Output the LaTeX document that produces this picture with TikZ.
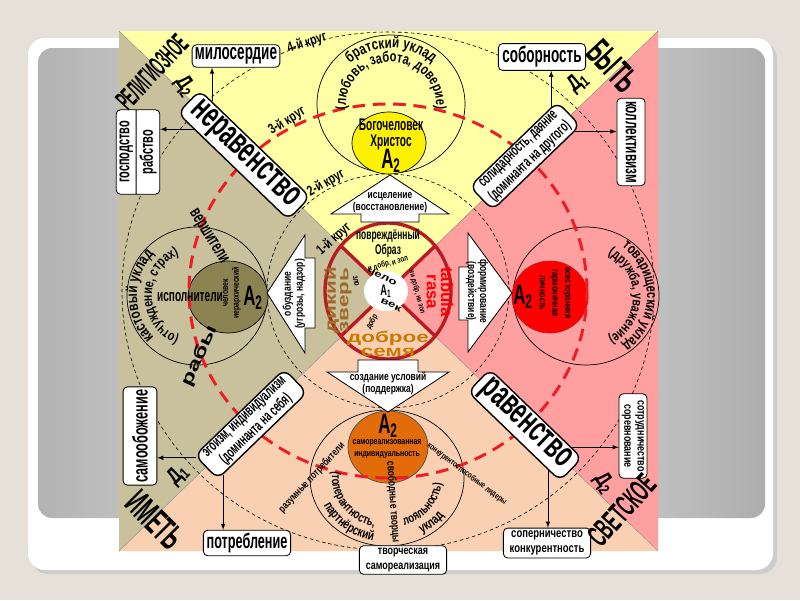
\documentclass[tikz,border=0pt]{standalone}
\usepackage{fontspec}
\setmainfont{Liberation Sans}
\newfontfamily\narrowfont[FakeStretch=0.75]{Liberation Sans}
\newfontfamily\condfont[FakeStretch=0.6]{Liberation Sans}
\newfontfamily\tightfont[FakeStretch=0.5]{Liberation Sans}
\newfontfamily\widefont[FakeStretch=1.45]{Liberation Sans}
\usetikzlibrary{calc,shapes.multipart,decorations.text}
\definecolor{pagec}{HTML}{E6E1D8}
\definecolor{topc}{HTML}{FFFFA6}
\definecolor{rightc}{HTML}{FF9F9F}
\definecolor{botc}{HTML}{FAD0B2}
\definecolor{leftc}{HTML}{C9C09C}
\definecolor{ringred}{HTML}{EE1C24}
\definecolor{crossred}{HTML}{B81C22}
\definecolor{olivec}{HTML}{8C8352}
\definecolor{orangec}{HTML}{E36C0A}
\definecolor{beastc}{HTML}{9E6A2C}
\definecolor{seedc}{HTML}{C87A00}
\def\fsize#1#2{\fontsize{#1}{#2}\selectfont}
\def\bendtext[#1](#2)(#3:#4:#5:#6)#7{\path[decorate,decoration={text along path,text align=center,text={|#1|#7}}] ($(#2)+({#5*cos(#3)},{#6*sin(#3)})$) arc[start angle=#3,end angle=#4,x radius=#5,y radius=#6];}
\tikzset{
  box/.style={draw,fill=white,rounded corners=3pt,line width=0.6pt,inner sep=2pt,align=center},
  bigbox/.style={draw,fill=white,rounded corners=6pt,line width=1pt,inner xsep=5pt,inner ysep=1.5pt,align=center},
  arr/.style={-latex,line width=0.5pt},
  ring/.style={line width=0.45pt,dash pattern=on 2.5pt off 2pt},
  redring/.style={draw=ringred,line width=2.1pt,dash pattern=on 9pt off 5.5pt},
  blockarr/.style={draw,fill=white,line width=0.6pt},
  lbl/.style={inner sep=0pt,align=center}
}
\begin{document}
\begin{tikzpicture}[x=0.025cm,y=0.025cm]
		%%%%% SLIDE %%%%%
		\useasboundingbox (0,0) rectangle (800,-600);
		\fill[pagec] (0,0) rectangle (800,-600);
		\fill[black!20,rounded corners=12] (31,-42) rectangle (777,-574);
		\fill[white,rounded corners=12] (28,-38) rectangle (773,-570);
		\shade[rounded corners=10,left color=black!30,right color=black!32,middle color=black!8] (38,-48) rectangle (765,-518);
		
		%%%%% QUADRANTS %%%%%
		\coordinate (C) at (388,-291);
		\coordinate (TL) at (119,-31);
		\coordinate (TR) at (658,-31);
		\coordinate (BR) at (658,-551);
		\coordinate (BL) at (119,-551);
		\fill[topc] (TL) -- (TR) -- (C) -- cycle;
		\fill[rightc] (TR) -- (BR) -- (C) -- cycle;
		\fill[botc] (BR) -- (BL) -- (C) -- cycle;
		\fill[leftc] (BL) -- (TL) -- (C) -- cycle;
		\draw[black!45,line width=0.3pt] (TL) -- (BR) (TR) -- (BL);
		
		%%%%% CIRCLES %%%%%
		\coordinate (T) at (391,-104);
		\coordinate (L) at (197,-296);
		\coordinate (R) at (586,-296);
		\coordinate (B) at (387,-478);
		\begin{scope}
			\clip (TL) rectangle (BR);
			\draw[ring] (C) ellipse[x radius=266,y radius=259];
		\end{scope}
		\draw[ring] (C) ellipse[x radius=121,y radius=117];
		\draw[line width=0.5pt] (T) ellipse[x radius=74,y radius=69];
		\draw[line width=0.5pt] (L) ellipse[x radius=70,y radius=69];
		\draw[line width=0.5pt] (R) ellipse[x radius=73,y radius=69];
		\draw[line width=0.5pt] (B) ellipse[x radius=77,y radius=68];
		\draw[fill=yellow,line width=0.5pt] (389,-143) ellipse[x radius=37,y radius=31];
		\draw[fill=olivec,line width=0.5pt] (228,-297) ellipse[x radius=40,y radius=36];
		\draw[fill=red,draw=crossred,line width=0.5pt] (550,-297) ellipse[x radius=38,y radius=36];
		\draw[fill=orangec,draw=black!70,line width=0.5pt] (388,-447) ellipse[x radius=40,y radius=36];
		\draw[redring] (C) ellipse[x radius=199,y radius=187];
		
		%%%%% CENTRE %%%%%
		\draw[crossred,line width=2.4pt] (C) ellipse[x radius=63,y radius=68];
		\draw[crossred,line width=2.4pt] (341,-246) -- (435,-336) (435,-246) -- (341,-336);
		\fill[white] (386,-291) ellipse[x radius=22,y radius=20];
		
		%%%%% BLOCK ARROWS %%%%%
		\draw[blockarr] (390,-175) -- (449,-214) -- (419,-214) -- (419,-222) -- (361,-222) -- (361,-214) -- (331,-214) -- cycle;
		\draw[blockarr] (388,-412) -- (449,-372) -- (418,-372) -- (418,-360) -- (358,-360) -- (358,-372) -- (327,-372) -- cycle;
		\draw[blockarr] (267,-293) -- (305,-235) -- (305,-258) -- (315,-258) -- (315,-328) -- (305,-328) -- (305,-353) -- cycle;
		\draw[blockarr] (512,-293) -- (468,-233) -- (468,-267) -- (459,-267) -- (459,-320) -- (468,-320) -- (468,-352) -- cycle;
		\node[lbl,font=\narrowfont\bfseries\fsize{8}{8.5}] (heal) at (390,-203) {исцеление\\(восстановление)};
		\node[lbl,font=\narrowfont\bfseries\fsize{8}{8.5}] (support) at (388,-383) {создание условий\\(поддержка)};
		\node[lbl,rotate=90,font=\narrowfont\bfseries\fsize{8}{8.5}] (curb) at (294,-294) {обуздание\\(угрозы, надзор)};
		\node[lbl,rotate=-90,font=\narrowfont\bfseries\fsize{8}{8.5}] (shape) at (477,-291) {формирование\\(воздействие)};
		
		%%%%% DIAGONAL BOXES %%%%%
		\node[bigbox,rotate=-44,font=\condfont\bfseries\fsize{26}{26}] (ner) at (244,-155) {неравенство};
		\node[bigbox,rotate=-44,font=\condfont\bfseries\fsize{26}{26}] (rav) at (525,-425) {равенство};
		\node[bigbox,rotate=44,font=\condfont\bfseries\fsize{11}{12}] (sol) at (525,-156) {солидарность, даяние\\(доминанта на другого)};
		\node[bigbox,rotate=44,font=\condfont\bfseries\fsize{11}{12}] (ego) at (251,-424) {эгоизм, индивидуализм\\(доминанта на себя)};
		
		%%%%% SIDE BOXES %%%%%
		\node[box,minimum width=62pt,minimum height=16pt,font=\condfont\bfseries\fsize{16}{16}] (mil) at (236,-56) {милосердие};
		\node[box,minimum width=62pt,minimum height=17pt,font=\condfont\bfseries\fsize{16}{16}] (sob) at (542,-57) {соборность};
		\node[box,minimum width=62pt,minimum height=17pt,font=\condfont\bfseries\fsize{15}{15}] (potr) at (247,-543) {потребление};
		\node[box,rotate=90,minimum width=60pt,minimum height=24pt,font=\condfont\bfseries\fsize{15}{15}] (samo) at (140,-436) {самообожение};
		\node[box,rotate=-90,minimum width=60pt,minimum height=20pt,font=\condfont\bfseries\fsize{14}{14}] (kol) at (631,-142) {коллективизм};
		\node[box,rotate=90,rectangle split,rectangle split parts=2,minimum width=60pt,font=\condfont\bfseries\fsize{13}{13}] (gos) at (138,-152) {господство\nodepart{two}рабство};
		\node[box,minimum width=62pt,minimum height=19pt,font=\narrowfont\bfseries\fsize{9}{10.5}] (sop) at (547,-543) {соперничество\\конкурентность};
		\node[box,rotate=-90,minimum width=60pt,minimum height=19pt,font=\narrowfont\bfseries\fsize{8.5}{9.5}] (sotr) at (633,-436) {сотрудничество\\соревнование};
		\node[box,minimum width=62pt,minimum height=18pt,font=\narrowfont\bfseries\fsize{8.5}{10}] (tvor) at (403,-560) {творческая\\самореализация};
		
		\path (ner.north west) -- (ner.north east) coordinate[pos=0.11] (nerUp);
		\path (ner.south west) -- (ner.south east) coordinate[pos=0.15] (nerLeft);
		\path (sol.north west) -- (sol.north east) coordinate[pos=0.93] (solUp);
		\path (sol.south west) -- (sol.south east) coordinate[pos=0.93] (solRight);
		\path (ego.north west) -- (ego.south west) coordinate[pos=0.1] (egoLeft);
		\path (ego.south west) -- (ego.south east) coordinate[pos=0.06] (egoDown);
		\path (rav.north west) -- (rav.north east) coordinate[pos=0.88] (ravRight);
		\path (rav.south west) -- (rav.south east) coordinate[pos=0.87] (ravDown);
		\draw[arr] (nerUp) -- (nerUp |- mil.south);
		\draw[arr] (nerLeft) -- (nerLeft -| gos.south);
		\draw[arr] (solUp) -- (solUp |- sob.south);
		\draw[arr] (solRight) -- (solRight -| kol.south);
		\draw[arr] (egoLeft) -- (egoLeft -| samo.south);
		\draw[arr] (egoDown) -- (egoDown |- potr.north);
		\draw[arr] (ravRight) -- (ravRight -| sotr.south);
		\draw[arr] (ravDown) -- (ravDown |- sop.north);
		
		%%%%% CORNER LABELS %%%%%
		\node[lbl,rotate=47,font=\tightfont\bfseries\fsize{20}{20}] (relig) at (152,-72) {\scalebox{0.85}[1]{РЕЛИГИОЗНОЕ}};
		\node[lbl,rotate=-47,font=\tightfont\bfseries\fsize{26}{26}] (be) at (613,-66) {БЫТЬ};
		\node[lbl,rotate=-45,font=\tightfont\bfseries\fsize{26}{26}] (have) at (155,-520) {ИМЕТЬ};
		\node[lbl,rotate=48,font=\tightfont\bfseries\fsize{22}{22}] (secular) at (622,-510) {СВЕТСКОЕ};
		\node[lbl,rotate=-55,font=\narrowfont\bfseries\fsize{16}{16}] (dtwoA) at (185,-86) {Д\textsubscript{2}};
		\node[lbl,rotate=40,font=\narrowfont\bfseries\fsize{16}{16}] (doneA) at (578,-82) {Д\textsubscript{1}};
		\node[lbl,rotate=45,font=\narrowfont\bfseries\fsize{16}{16}] (doneB) at (178,-475) {Д\textsubscript{1}};
		\node[lbl,rotate=-55,font=\narrowfont\bfseries\fsize{16}{16}] (dtwoB) at (604,-483) {Д\textsubscript{2}};
		
		%%%%% RING LABELS %%%%%
		\node[lbl,rotate=18,font=\narrowfont\bfseries\fsize{10}{10}] (ring4) at (307,-43) {4-й круг};
		\node[lbl,rotate=32,font=\narrowfont\bfseries\fsize{10}{10}] (ring3) at (287,-121) {3-й круг};
		\node[lbl,rotate=30,font=\narrowfont\bfseries\fsize{10}{10}] (ring2) at (326,-183) {2-й круг};
		\node[lbl,rotate=42,font=\narrowfont\bfseries\fsize{10}{10}] (ring1) at (334,-239) {1-й круг};
		
		%%%%% SECTOR TEXTS %%%%%
		\bendtext[\narrowfont\bfseries\fsize{11}{11}](T)(165:15:60:56){братский уклад}
		\bendtext[\narrowfont\bfseries\fsize{10.5}{10.5}](T)(215:-35:45:42){(любовь, забота, доверие)}
		\bendtext[\narrowfont\bfseries\fsize{11}{11}](L)(240:120:60:60){кастовый уклад}
		\bendtext[\narrowfont\bfseries\fsize{10}{10}](L)(265:95:45:45){(отчуждение, страх)}
		\bendtext[\narrowfont\bfseries\fsize{10.5}{10.5}](R)(80:-80:61:61){товарищеский уклад}
		\bendtext[\narrowfont\bfseries\fsize{10}{10}](R)(80:-80:47:47){(дружба, уважение)}
		\bendtext[\narrowfont\bfseries\fsize{9.5}{9.5}](B)(195:268:70:64){партнёрский}
		\bendtext[\narrowfont\bfseries\fsize{9.5}{9.5}](B)(285:340:70:64){уклад}
		\bendtext[\narrowfont\bfseries\fsize{9}{9}](B)(160:268:55:50){(толерантность,}
		\bendtext[\narrowfont\bfseries\fsize{9}{9}](B)(283:360:55:50){лояльность)}
		
		\node[lbl,font=\condfont\bfseries\fsize{12}{12}] (godman) at (391,-125) {Богочеловек};
		\node[lbl,font=\condfont\bfseries\fsize{12}{12}] (christ) at (391,-142) {Христос};
		\node[lbl,font=\condfont\bfseries\fsize{20}{20}] (atop) at (391,-161) {A\textsubscript{2}};
		\node[lbl,font=\condfont\bfseries\fsize{12}{12}] (doers) at (190,-297) {исполнители};
		\node[lbl,rotate=90,font=\narrowfont\bfseries\fsize{6.5}{7.5}] (hier) at (232,-293) {человек\\иерархический};
		\node[lbl,font=\condfont\bfseries\fsize{20}{20}] (aleft) at (253,-298) {A\textsubscript{2}};
		\node[lbl,font=\condfont\bfseries\fsize{20}{20}] (aright) at (523,-297) {A\textsubscript{2}};
		\node[lbl,rotate=-90,font=\narrowfont\bfseries\fsize{7}{9}] (whole) at (555,-293) {всесторонняя\\гармоничная\\личность};
		\node[lbl,font=\condfont\bfseries\fsize{20}{20}] (abot) at (388,-426) {A\textsubscript{2}};
		\node[lbl,font=\narrowfont\bfseries\fsize{6.5}{9}] (self) at (387,-449) {самореализованная\\индивидуальность};
		\node[lbl,rotate=-58,font=\condfont\bfseries\fsize{13}{13}] (rulers) at (208,-237) {вершители};
		\node[lbl,rotate=65,font=\widefont\bfseries\fsize{12}{12}] (slaves) at (200,-356) {рабы};
		\node[lbl,rotate=47,font=\narrowfont\bfseries\fsize{7.5}{7.5}] (consum) at (312,-478) {разумные потребители};
		\node[lbl,rotate=-86,font=\narrowfont\bfseries\fsize{8}{8}] (creat) at (393,-502) {свободные творцы};
		\node[lbl,rotate=-37,font=\narrowfont\bfseries\fsize{6}{6}] (leaders) at (467,-474) {конкурентоспособные лидеры};
		
		%%%%% CENTRE TEXTS %%%%%
		\node[lbl,font=\condfont\bfseries\fsize{10}{10}] (damaged) at (388,-236) {повреждённый};
		\node[lbl,font=\condfont\bfseries\fsize{10}{10}] (image) at (388,-251) {Образ};
		\node[lbl,rotate=15,font=\narrowfont\bfseries\fsize{6}{6}] (both) at (388,-264) {и добр, и зол};
		\node[lbl,rotate=-75,font=\narrowfont\bfseries\fsize{5.5}{5.5}] (neither) at (417,-292) {ни добр, ни зол};
		\node[lbl,rotate=-80,font=\narrowfont\bfseries\fsize{6}{6}] (evil) at (356,-281) {зло};
		\node[lbl,rotate=60,font=\narrowfont\bfseries\fsize{6}{6}] (good) at (372,-322) {добр};
		\node[lbl,rotate=90,text=beastc,font=\widefont\bfseries\fsize{11}{9}] (beast) at (338,-300) {дикий\\зверь};
		\node[lbl,rotate=-90,text=red,font=\bfseries\fsize{12}{10}] (tabula) at (440,-292) {tabula\\rasa};
		\node[lbl,text=seedc,font=\widefont\bfseries\fsize{11}{10}] (seed) at (388,-344) {доброе\\семя};
		\node[lbl,font=\condfont\bfseries\fsize{11}{11}] (aone) at (386,-291) {A\textsubscript{1}};
		\node[lbl,rotate=-25,font=\widefont\bfseries\fsize{6.5}{6.5}] (hu) at (382,-277) {чело};
		\node[lbl,rotate=-25,font=\widefont\bfseries\fsize{6.5}{6.5}] (man) at (391,-305) {век};
		
		%%%%% END %%%%%
\end{tikzpicture}
\end{document}
